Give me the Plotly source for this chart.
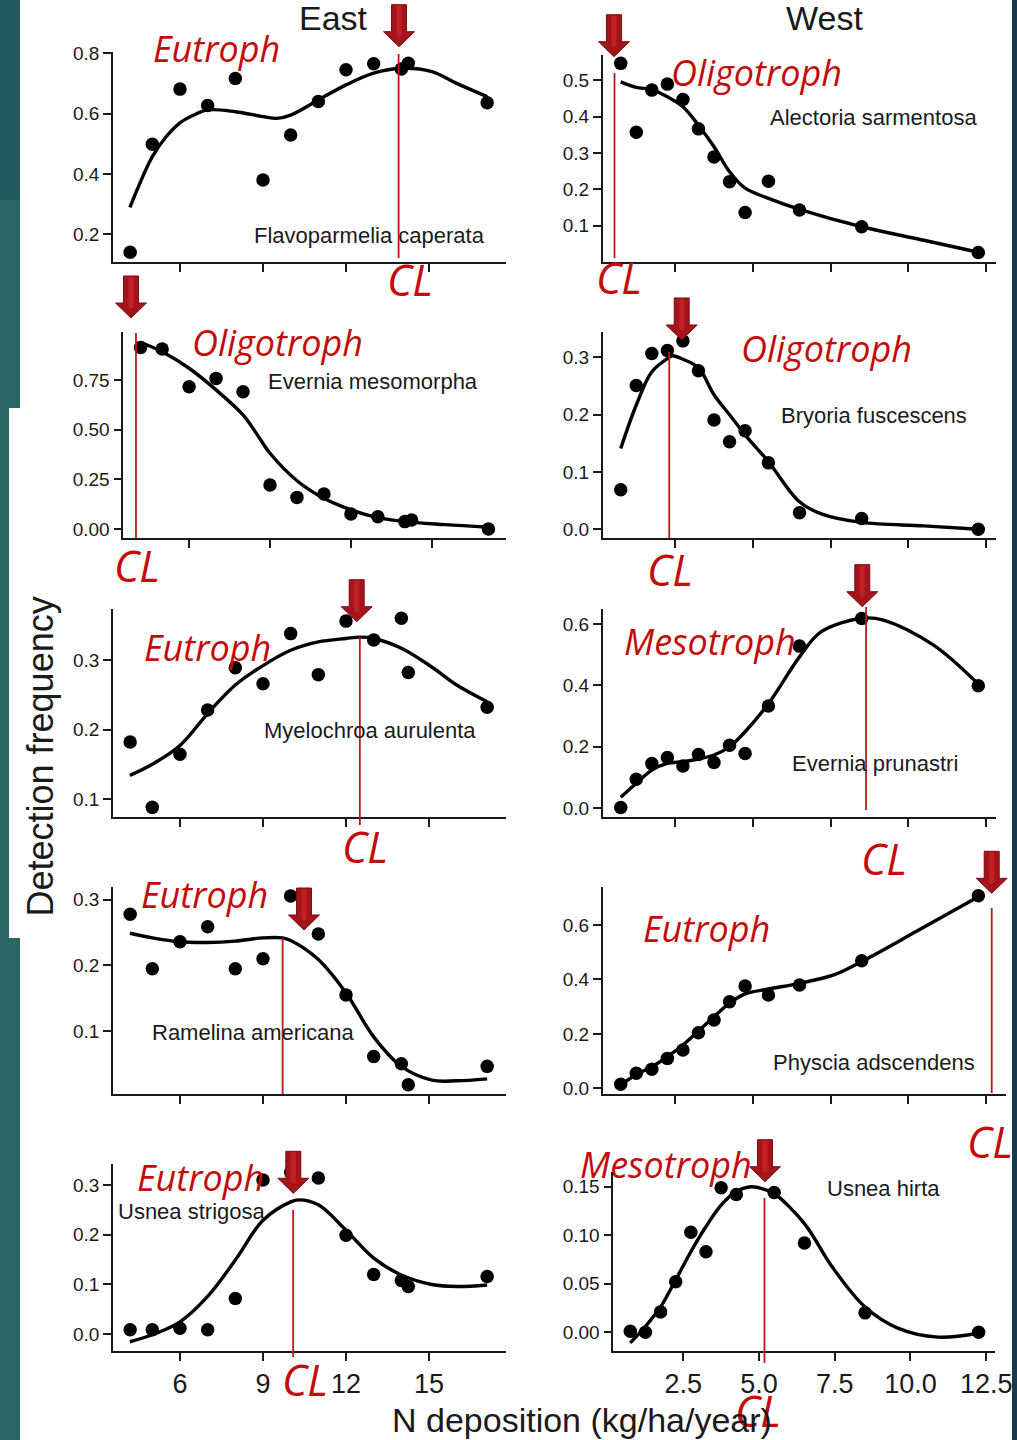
import plotly.graph_objects as go

W, H = 1017, 1440

# ---------------- data ----------------
EAST_X = [4.2, 5, 6, 7, 8, 9, 10, 11, 12, 13, 14, 14.25, 17.1]
WEST_X = [0.75, 1.25, 1.75, 2.25, 2.75, 3.25, 3.75, 4.25, 4.75, 5.5, 6.5, 8.5, 12.25]

SPECIES = ["Flavoparmelia caperata", "Alectoria sarmentosa", "Evernia mesomorpha",
           "Bryoria fuscescens", "Myelochroa aurulenta", "Evernia prunastri",
           "Ramelina americana", "Physcia adscendens", "Usnea strigosa", "Usnea hirta"]
REGION = ["East", "West", "East", "West", "East", "West", "East", "West", "East", "West"]
TROPHIC = ["Eutroph", "Oligotroph", "Oligotroph", "Oligotroph", "Eutroph",
           "Mesotroph", "Eutroph", "Eutroph", "Eutroph", "Mesotroph"]
CL = [13.9, 0.55, 4.03, 2.31, 12.5, 8.64, 9.71, 12.68, 10.09, 5.18]

FLAVO_Y = [0.14, 0.498, 0.681, 0.627, 0.716, 0.380, 0.529, 0.64, 0.745, 0.765, 0.748, 0.767, 0.636]
ALECT_Y = [0.546, 0.357, 0.4725, 0.489, 0.447, 0.366, 0.289, 0.221, 0.136, 0.222, 0.143, 0.097, 0.026]
EVMES_Y = [0.914, 0.906, 0.716, 0.758, 0.691, 0.221, 0.159, 0.176, 0.075, 0.062, 0.037, 0.045, 0.0]
BRYO_Y = [0.069, 0.251, 0.307, 0.312, 0.329, 0.277, 0.191, 0.153, 0.172, 0.116, 0.029, 0.019, 0.0]
MYELO_Y = [0.182, 0.088, 0.1645, 0.228, 0.289, 0.266, 0.338, 0.279, 0.356, 0.329, 0.360, 0.282, 0.232]
EVPRU_Y = [0.002, 0.094, 0.145, 0.165, 0.137, 0.175, 0.149, 0.205, 0.178, 0.333, 0.528, 0.618, 0.399]
RAMEL_Y = [0.278, 0.195, 0.236, 0.259, 0.195, 0.210, 0.306, 0.248, 0.155, 0.061, 0.05, 0.018, 0.046]
PHYSC_Y = [0.015, 0.055, 0.07, 0.110, 0.141, 0.204, 0.251, 0.318, 0.376, 0.343, 0.380, 0.469, 0.708]
USTRI_Y = [0.009, 0.009, 0.012, 0.009, 0.072, 0.310, 0.326, 0.314, 0.199, 0.120, 0.108, 0.096, 0.116]
UHIRT_Y = [0.001, 0.0, 0.021, 0.052, 0.103, 0.083, 0.149, 0.142, 0.166, 0.144, 0.092, 0.020, 0.0]

# fitted curves
FLAVO_FX = [4.19, 4.5, 5, 5.5, 6, 6.5, 7, 8, 9, 9.5, 10, 11, 12, 13, 14, 15.1, 16, 17.1]
FLAVO_FY = [0.289, 0.358, 0.457, 0.523, 0.569, 0.595, 0.612, 0.606, 0.59, 0.584, 0.595, 0.645, 0.695, 0.734, 0.75, 0.739, 0.70, 0.656]
ALECT_FX = [0.75, 1.25, 1.75, 2.25, 2.75, 3.25, 3.75, 4.25, 4.75, 5.5, 6.5, 8.5, 10.5, 12.25]
ALECT_FY = [0.495, 0.480, 0.474, 0.454, 0.427, 0.376, 0.317, 0.248, 0.203, 0.175, 0.145, 0.097, 0.06, 0.027]
EVMES_FX = [4.19, 5, 6, 7, 8, 8.5, 9, 10, 11, 12, 13, 14, 15.5, 17.1]
EVMES_FY = [0.94, 0.892, 0.809, 0.70, 0.574, 0.48, 0.381, 0.243, 0.154, 0.096, 0.057, 0.037, 0.022, 0.009]
BRYO_FX = [0.75, 1.25, 1.75, 2.25, 2.4, 2.75, 3.25, 3.75, 4.25, 4.75, 5.5, 6.5, 7.2, 8.5, 10.5, 12.25]
BRYO_FY = [0.141, 0.217, 0.275, 0.298, 0.303, 0.297, 0.282, 0.235, 0.2, 0.165, 0.118, 0.048, 0.027, 0.012, 0.006, 0.0]
MYELO_FX = [4.19, 5, 6, 7, 8, 9, 10, 11, 12, 12.5, 13, 14, 15.1, 16, 17.1]
MYELO_FY = [0.134, 0.150, 0.177, 0.223, 0.264, 0.292, 0.314, 0.326, 0.331, 0.333, 0.331, 0.317, 0.290, 0.264, 0.240]
EVPRU_FX = [0.75, 1.25, 1.75, 2.25, 2.75, 3.25, 3.75, 4.25, 4.75, 5.5, 6.5, 7.2, 8.5, 9.2, 10.8, 12.25]
EVPRU_FY = [0.035, 0.081, 0.124, 0.146, 0.151, 0.16, 0.173, 0.2, 0.249, 0.34, 0.493, 0.575, 0.619, 0.613, 0.532, 0.404]
RAMEL_FX = [4.19, 5, 6, 7, 8, 9, 9.7, 10, 11, 12, 13, 14, 15.1, 16, 17.1]
RAMEL_FY = [0.249, 0.242, 0.236, 0.235, 0.237, 0.242, 0.242, 0.238, 0.209, 0.158, 0.091, 0.046, 0.025, 0.024, 0.027]
PHYSC_FX = [0.75, 1.25, 1.75, 2.25, 2.75, 3.25, 3.75, 4.25, 4.75, 5.5, 6.5, 7.6, 8.5, 10.25, 12.25]
PHYSC_FY = [0.012, 0.051, 0.079, 0.116, 0.159, 0.211, 0.263, 0.313, 0.347, 0.365, 0.386, 0.417, 0.466, 0.576, 0.704]
USTRI_FX = [4.19, 5, 6, 7, 8, 9, 10, 10.3, 11, 12, 13, 14, 15.1, 16, 17.1]
USTRI_FY = [-0.015, -0.001, 0.025, 0.076, 0.149, 0.229, 0.266, 0.27, 0.26, 0.209, 0.153, 0.119, 0.10, 0.096, 0.099]
UHIRT_FX = [0.75, 1.25, 1.75, 2.25, 2.75, 3.25, 3.75, 4.25, 4.75, 5.2, 5.5, 6.5, 7.4, 8.5, 9.6, 10.9, 12.25]
UHIRT_FY = [-0.011, 0.006, 0.026, 0.054, 0.083, 0.109, 0.131, 0.145, 0.150, 0.147, 0.143, 0.112, 0.068, 0.026, 0.004, -0.005, -0.001]

POINTS_Y = [FLAVO_Y, ALECT_Y, EVMES_Y, BRYO_Y, MYELO_Y, EVPRU_Y, RAMEL_Y, PHYSC_Y, USTRI_Y, UHIRT_Y]
FIT_X = [FLAVO_FX, ALECT_FX, EVMES_FX, BRYO_FX, MYELO_FX, EVPRU_FX, RAMEL_FX, PHYSC_FX, USTRI_FX, UHIRT_FX]
FIT_Y = [FLAVO_FY, ALECT_FY, EVMES_FY, BRYO_FY, MYELO_FY, EVPRU_FY, RAMEL_FY, PHYSC_FY, USTRI_FY, UHIRT_FY]

EAST_XTICKS = [6, 9, 12, 15]
WEST_XTICKS = [2.5, 5.0, 7.5, 10.0, 12.5]
YTICKS = [[0.2, 0.4, 0.6, 0.8], [0.1, 0.2, 0.3, 0.4, 0.5], [0, 0.25, 0.5, 0.75],
          [0, 0.1, 0.2, 0.3], [0.1, 0.2, 0.3], [0, 0.2, 0.4, 0.6], [0.1, 0.2, 0.3],
          [0, 0.2, 0.4, 0.6], [0, 0.1, 0.2, 0.3], [0, 0.05, 0.10, 0.15]]
YDEC = [1, 1, 2, 1, 1, 1, 1, 1, 1, 2]

# ---------------- layout geometry (pixels) ----------------
BOX = [(113, 505.7, 52, 262), (602.7, 995.7, 55, 261.7),
       (123.3, 505.7, 331.7, 538.3), (602.7, 995.7, 331.7, 538.3),
       (113, 505.7, 609.3, 817.3), (602.7, 995.7, 609.3, 816.7),
       (113, 505.7, 886.7, 1094.3), (602.7, 1005.7, 886.7, 1094.3),
       (113, 505.7, 1164, 1350.7), (613.3, 995, 1171.7, 1350.7)]
XRANGE = [(3.58, 17.77), (0.17, 12.81), (3.56, 17.74), (0.17, 12.81), (3.58, 17.77),
          (0.17, 12.81), (3.58, 17.77), (0.17, 13.13), (3.58, 17.77), (0.19, 12.79)]
YRANGE = [(0.108, 0.804), (0.001, 0.569), (-0.047, 0.993), (-0.0157, 0.345), (0.0737, 0.373),
          (-0.028, 0.648), (0.0034, 0.320), (-0.022, 0.741), (-0.033, 0.342), (-0.019, 0.1655)]
CL_LINE_PX = [(54, 258), (73, 258), (333, 538), (352, 538), (637, 825), (607, 810),
              (938, 1094), (908, 1093), (1210, 1357), (1198, 1363)]
ARROW_PX = [(399, 46.7), (614, 56.7), (131, 318), (681.7, 340), (356.7, 621.7),
            (862.3, 606.7), (304, 930), (991.7, 893.3), (293.3, 1193.3), (765, 1181.7)]
TROPHIC_PX = [(216, 49), (756, 72.5), (277, 342.5), (826, 348), (207, 648),
              (710, 641), (204, 894), (706, 928), (200, 1177), (666, 1164)]
CL_TEXT_PX = [(410, 279.5), (619, 277.5), (137, 566), (670, 570), (365, 846.5),
              (883.5, 858.7), None, (990, 1141), (305, 1379), (758, 1410)]
SPECIES_PX = [(487, 236, "right"), (979, 117.5, "right"), (480, 381.3, "right"),
              (969, 416, "right"), (478, 730.5, "right"), (960, 763.7, "right"),
              (150, 1032.5, "left"), (977, 1062.5, "right"), (116, 1211.5, "left"),
              (825, 1188.5, "left")]

RED = "#c40a0a"
INK = "#1a1a1a"
TICKFONT = "Liberation Sans"
HANDFONT = "Open Sans"


def px(x):
    return x / W


def py(y):
    return 1 - y / H


fig = go.Figure()
layout = dict(width=W, height=H, autosize=False,
              margin=dict(l=0, r=0, t=0, b=0, pad=0, autoexpand=False),
              paper_bgcolor="white", plot_bgcolor="rgba(0,0,0,0)",
              showlegend=False, annotations=[], shapes=[])

for i in range(10):
    n = i + 1
    sx = "" if n == 1 else str(n)
    x0, x1, yt, yb = BOX[i]
    east = REGION[i] == "East"
    xs = EAST_X if east else WEST_X
    bottom = i >= 8
    xt = EAST_XTICKS if east else WEST_XTICKS
    xtt = [str(v) for v in EAST_XTICKS] if east else ["%.1f" % v for v in WEST_XTICKS]
    layout["xaxis" + sx] = dict(
        domain=[px(x0), px(x1)], range=list(XRANGE[i]), anchor="y" + sx,
        showline=True, linecolor=INK, linewidth=1.6, ticks="outside", ticklen=8,
        tickwidth=1.6, tickcolor=INK, showgrid=False, zeroline=False, automargin=False,
        tickmode="array", tickvals=xt, ticktext=xtt, showticklabels=bottom,
        tickfont=dict(family=TICKFONT, size=27, color=INK), fixedrange=True)
    layout["yaxis" + sx] = dict(
        domain=[py(yb), py(yt)], range=list(YRANGE[i]), anchor="x" + sx,
        showline=True, linecolor=INK, linewidth=1.6, ticks="outside", ticklen=8,
        tickwidth=1.6, tickcolor=INK, showgrid=False, zeroline=False, automargin=False,
        tickmode="array", tickvals=YTICKS[i],
        ticktext=[("%." + str(YDEC[i]) + "f") % v for v in YTICKS[i]],
        tickfont=dict(family=TICKFONT, size=19, color=INK), fixedrange=True)

    fig.add_trace(go.Scatter(x=FIT_X[i], y=FIT_Y[i], mode="lines",
                             line=dict(color="black", width=3.4, shape="spline", smoothing=1.0),
                             xaxis="x" + sx, yaxis="y" + sx, hoverinfo="skip"))
    fig.add_trace(go.Scatter(x=xs, y=POINTS_Y[i], mode="markers",
                             marker=dict(color="black", size=13.5),
                             xaxis="x" + sx, yaxis="y" + sx, cliponaxis=False))

    # critical load line
    ly0, ly1 = CL_LINE_PX[i]
    layout["shapes"].append(dict(type="line", xref="x" + sx, yref="paper",
                                 x0=CL[i], x1=CL[i], y0=py(ly1), y1=py(ly0),
                                 line=dict(color="#c01818", width=1.8), layer="above"))

    # block arrow
    ax, ay = ARROW_PX[i]
    pts = [(ax - 7.5, ay - 42), (ax + 7.5, ay - 42), (ax + 7.5, ay - 15), (ax + 15.5, ay - 15),
           (ax, ay), (ax - 15.5, ay - 15), (ax - 7.5, ay - 15)]
    path = "M " + " L ".join("%.5f,%.5f" % (px(a), py(b)) for a, b in pts) + " Z"
    layout["shapes"].append(dict(type="path", xref="paper", yref="paper", path=path,
                                 fillcolor="#a3151a", line=dict(color="#7a0d10", width=1),
                                 layer="above"))
    hpts = [(ax - 2.5, ay - 41), (ax + 2.5, ay - 41), (ax + 2.5, ay - 10), (ax - 2.5, ay - 10)]
    hpath = "M " + " L ".join("%.5f,%.5f" % (px(a), py(b)) for a, b in hpts) + " Z"
    layout["shapes"].append(dict(type="path", xref="paper", yref="paper", path=hpath,
                                 fillcolor="#c32026", line=dict(width=0), layer="above"))

    # texts
    tx, ty = TROPHIC_PX[i]
    layout["annotations"].append(dict(
        text=TROPHIC[i], x=px(tx), y=py(ty), xref="paper", yref="paper",
        xanchor="center", yanchor="middle", showarrow=False,
        font=dict(family=HANDFONT, size=36, color=RED, style="italic")))
    if CL_TEXT_PX[i] is not None:
        cx, cy = CL_TEXT_PX[i]
        layout["annotations"].append(dict(
            text="CL", x=px(cx), y=py(cy), xref="paper", yref="paper",
            xanchor="center", yanchor="middle", showarrow=False,
            font=dict(family=HANDFONT, size=43, color=RED, style="italic")))
    sxp, syp, anc = SPECIES_PX[i]
    layout["annotations"].append(dict(
        text=SPECIES[i], x=px(sxp), y=py(syp), xref="paper", yref="paper",
        xanchor=anc, yanchor="middle", showarrow=False,
        font=dict(family=TICKFONT, size=22, color=INK)))

# titles
for txt, cx in (("East", 333), ("West", 824)):
    layout["annotations"].append(dict(text=txt, x=px(cx), y=py(18), xref="paper", yref="paper",
                                      xanchor="center", yanchor="middle", showarrow=False,
                                      font=dict(family=TICKFONT, size=34, color=INK)))
layout["annotations"].append(dict(text="N deposition (kg/ha/year)", x=px(581.5), y=py(1420),
                                  xref="paper", yref="paper", xanchor="center", yanchor="middle",
                                  showarrow=False, font=dict(family=TICKFONT, size=34, color=INK)))
layout["annotations"].append(dict(text="Detection frequency", x=px(40), y=py(756.5),
                                  xref="paper", yref="paper", xanchor="center", yanchor="middle",
                                  textangle=-90, showarrow=False,
                                  font=dict(family=TICKFONT, size=36, color=INK)))

# slide background strips
layout["shapes"].append(dict(type="rect", xref="paper", yref="paper", x0=0, x1=px(20), y0=0, y1=1,
                             fillcolor="#2c6664", line=dict(width=0), layer="below"))
layout["shapes"].append(dict(type="rect", xref="paper", yref="paper", x0=0, x1=px(20), y0=py(200), y1=1,
                             fillcolor="#255960", line=dict(width=0), layer="below"))
layout["shapes"].append(dict(type="rect", xref="paper", yref="paper", x0=px(9), x1=px(20),
                             y0=py(938), y1=py(408), fillcolor="white", line=dict(width=0), layer="below"))
layout["shapes"].append(dict(type="rect", xref="paper", yref="paper", x0=px(1012), x1=1, y0=0, y1=1,
                             fillcolor="#17394a", line=dict(width=0), layer="above"))

fig.update_layout(**layout)
fig.write_html("out.html", config={"displayModeBar": False})
